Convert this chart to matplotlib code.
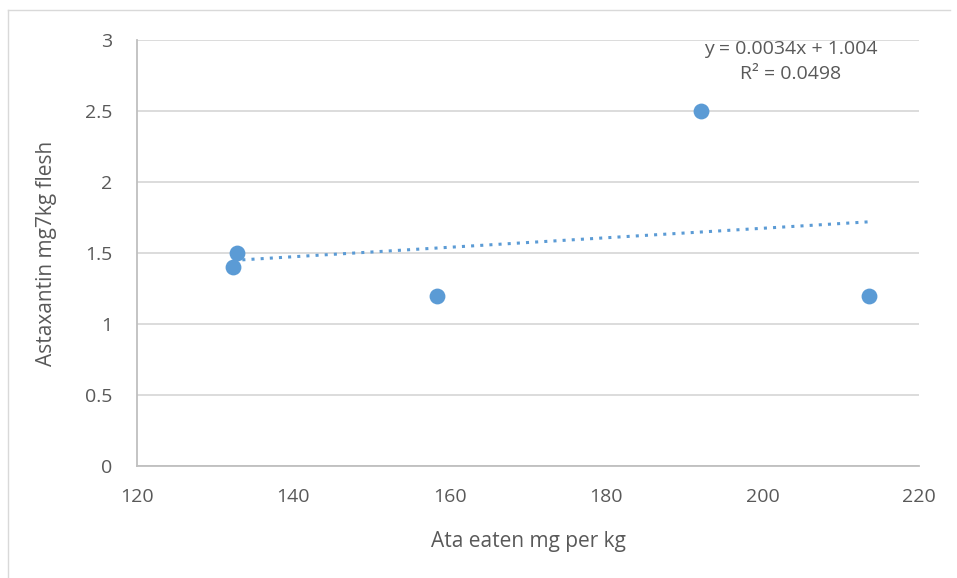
import numpy as np
import matplotlib.pyplot as plt
from matplotlib.lines import Line2D

plt.rcParams.update({'font.family': ['Open Sans', 'DejaVu Sans']})

ata_eaten = [132.3, 132.8, 158.4, 192.1, 213.6]
astaxantin = [1.4, 1.5, 1.2, 2.5, 1.2]
xticks = [120, 140, 160, 180, 200, 220]
yticks = [0, 0.5, 1, 1.5, 2, 2.5, 3]
eq_text = "y = 0.0034x + 1.004\nR² = 0.0498"

grey = "#595959"
blue = "#5B9BD5"

fig = plt.figure(figsize=(9.57, 5.78), dpi=100)
ax = fig.add_axes([137/957, 1-466/578, (919-137)/957, (466-40)/578])

# trendline (linear fit)
k, b = np.polyfit(ata_eaten, astaxantin, 1)
xl = np.array([min(ata_eaten), max(ata_eaten)])
ax.plot(xl, k*xl+b, ls=(0, (1, 2)), color=blue, lw=2.2, zorder=2)

ax.scatter(ata_eaten, astaxantin, s=130, color=blue, zorder=3, linewidths=0)

ax.set_xlim(120, 220)
ax.set_ylim(0, 3)
ax.set_xticks(xticks)
ax.set_yticks(yticks)
ax.set_yticklabels(["0", "0.5", "1", "1.5", "2", "2.5", "3"])
ax.grid(axis='y', color="#D9D9D9", lw=1.3)
ax.set_axisbelow(True)
for s in ["top", "right"]:
    ax.spines[s].set_visible(False)
ax.spines["left"].set_color("#BFBFBF")
ax.spines["bottom"].set_color("#BFBFBF")
ax.spines["left"].set_linewidth(1.3)
ax.spines["bottom"].set_linewidth(1.3)
ax.tick_params(length=0, labelsize=14, colors=grey)
ax.tick_params(axis='y', pad=18)
ax.tick_params(axis='x', pad=16)

ax.set_xlabel("Ata eaten mg per kg", fontsize=15, color=grey, labelpad=18)
ax.set_ylabel("Astaxantin mg7kg flesh", fontsize=15, color=grey, labelpad=20)

ax.text(203.6, 2.85, eq_text, ha="center", va="center", fontsize=14, color=grey,
        linespacing=1.5)

# chart area border (left and top edges)
fig.add_artist(Line2D([8/957, 8/957], [0, 1-10/578], color="#D9D9D9", lw=1, transform=fig.transFigure))
fig.add_artist(Line2D([8/957, 950/957], [1-10/578, 1-10/578], color="#D9D9D9", lw=1, transform=fig.transFigure))

fig.savefig("out.png", dpi=100)
